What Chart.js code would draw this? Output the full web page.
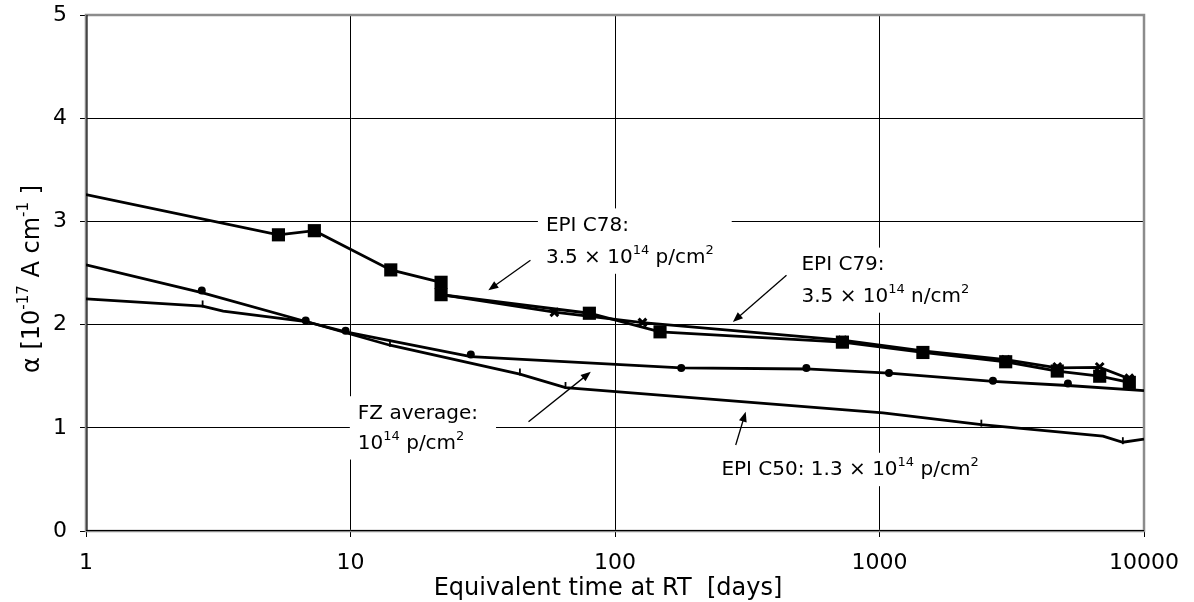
<!DOCTYPE html>
<html>
<head>
<meta charset="utf-8">
<script src="https://cdn.jsdelivr.net/npm/chart.js@4.4.1/dist/chart.umd.min.js"></script>
<style>
  html, body { margin: 0; padding: 0; background: #fff; }
  #wrap { width: 1194px; height: 602px; }
</style>
</head>
<body>
<div id="wrap"><canvas id="alphaChart" width="1194" height="602"></canvas></div>
<script>
// values: x = equivalent days at RT, y = alpha [1e-17 A/cm]
const xTicks = [1, 10, 100, 1000, 10000];
const yTicks = [0, 1, 2, 3, 4, 5];

// EPI C78, 3.5e14 p/cm2 (squares)
const c78LineDays  = [1, 5.34, 7.3, 14.2, 22, 22, 80, 148, 724, 1459, 3000, 4700, 6800, 8800];
const c78LineAlpha = [3.26, 2.87, 2.91, 2.53, 2.41, 2.29, 2.11, 1.93, 1.83, 1.73, 1.64, 1.55, 1.50, 1.44];
const c78MarkDays  = [5.34, 7.3, 14.2, 22, 22, 80, 148, 724, 1459, 3000, 4700, 6800, 8800];
const c78MarkAlpha = [2.87, 2.91, 2.53, 2.41, 2.29, 2.11, 1.93, 1.83, 1.73, 1.64, 1.55, 1.50, 1.44];

// EPI C79, 3.5e14 n/cm2 (crosses)
const c79LineDays  = [22, 59, 127, 724, 1459, 3000, 4700, 6800, 8800];
const c79LineAlpha = [2.29, 2.12, 2.02, 1.85, 1.745, 1.66, 1.58, 1.585, 1.475];
const c79MarkDays  = [59, 127, 724, 1459, 3000, 4700, 6800, 8800];
const c79MarkAlpha = [2.12, 2.02, 1.85, 1.745, 1.66, 1.59, 1.59, 1.48];

// FZ average, 1e14 p/cm2 (dots)
const fzLineDays  = [1, 2.74, 6.77, 9.58, 28.5, 178, 529, 1086, 2685, 5156, 10000];
const fzLineAlpha = [2.58, 2.31, 2.03, 1.93, 1.69, 1.58, 1.57, 1.53, 1.45, 1.41, 1.36];
const fzMarkDays  = [2.74, 6.77, 9.58, 28.5, 178, 529, 1086, 2685, 5156];
const fzMarkAlpha = [2.33, 2.04, 1.94, 1.71, 1.58, 1.58, 1.53, 1.455, 1.43];

// EPI C50, 1.3e14 p/cm2 (small dashes)
const c50LineDays  = [1, 2.76, 3.3, 6.8, 14.1, 43.7, 65, 1031, 2427, 6997, 8318, 10000];
const c50LineAlpha = [2.25, 2.18, 2.13, 2.03, 1.80, 1.52, 1.39, 1.145, 1.03, 0.92, 0.86, 0.89];
const c50MarkDays  = [2.76, 14.1, 43.7, 65, 2427, 8318];
const c50MarkAlpha = [2.20, 1.82, 1.54, 1.41, 1.045, 0.875];

const FONT = '"DejaVu Sans", Verdana, sans-serif';

function pts(days, alpha) {
  return days.map((d, i) => ({ x: d, y: alpha[i] }));
}

function lineSet(days, alpha) {
  return {
    data: pts(days, alpha),
    showLine: true,
    borderColor: "#000",
    borderWidth: 2.8,
    pointRadius: 0,
    tension: 0,
  };
}

function markSet(days, alpha, style) {
  return Object.assign({
    data: pts(days, alpha),
    showLine: false,
    borderColor: "#000",
    backgroundColor: "#000",
  }, style);
}

// --- text boxes and arrows, placed in data coordinates ---
// each label: lines of [text, superscript?] parts, left x (days), baselines (alpha)
const labels = [
  { x: 54.8, y: [2.907, 2.597], lines: [[["EPI C78:", false]], [["3.5 \u00d7 10", false], ["14", true], [" p/cm", false], ["2", true]]] },
  { x: 507, y: [2.527, 2.220], lines: [[["EPI C79:", false]], [["3.5 \u00d7 10", false], ["14", true], [" n/cm", false], ["2", true]]] },
  { x: 10.66, y: [1.087, 0.797], lines: [[["FZ average:", false]], [["10", false], ["14", true], [" p/cm", false], ["2", true]]] },
  { x: 252.5, y: [0.539], lines: [[["EPI C50: 1.3 \u00d7 10", false], ["14", true], [" p/cm", false], ["2", true]]] },
];
const arrows = [
  { from: [47.9, 2.623], to: [33.2, 2.333] },
  { from: [445, 2.478], to: [279, 2.026] },
  { from: [47.1, 1.058], to: [81, 1.542] },
  { from: [286, 0.833], to: [312, 1.155] },
];

const LABEL_SIZE = 20;

function drawRich(ctx, parts, x, y, size) {
  let cx = x;
  parts.forEach(([t, sup]) => {
    ctx.font = (sup ? Math.round(size * 0.63) : size) + "px " + FONT;
    ctx.fillText(t, cx, sup ? y - size * 0.45 : y);
    cx += ctx.measureText(t).width;
  });
  return cx - x;
}

function measureRich(ctx, parts, size) {
  let w = 0;
  parts.forEach(([t, sup]) => {
    ctx.font = (sup ? Math.round(size * 0.63) : size) + "px " + FONT;
    w += ctx.measureText(t).width;
  });
  return w;
}

const annotationPlugin = {
  id: "annotations",
  beforeDatasetsDraw(chart) {
    const { ctx, chartArea: a, scales } = chart;
    ctx.save();
    // white boxes behind the labels hide the grid
    ctx.fillStyle = "#fff";
    labels.forEach((lb) => {
      const x = scales.x.getPixelForValue(lb.x);
      const ys = lb.y.map((v) => scales.y.getPixelForValue(v));
      const w = Math.max(...lb.lines.map((p) => measureRich(ctx, p, LABEL_SIZE)));
      const top = ys[0] - LABEL_SIZE * 0.73 - 8;
      const bottom = ys[ys.length - 1] + LABEL_SIZE * 0.24 + 6;
      ctx.fillRect(x - 8, top, w + 26, bottom - top);
    });
    // grey plot frame
    ctx.strokeStyle = "#8c8c8c";
    ctx.lineWidth = 2.5;
    ctx.strokeRect(a.left, a.top, a.right - a.left, a.bottom - a.top);
    ctx.strokeStyle = "#000";
    ctx.lineWidth = 1;
    ctx.beginPath();
    ctx.moveTo(a.left + 1, a.top);
    ctx.lineTo(a.left + 1, a.bottom);
    ctx.moveTo(a.left, a.bottom - 0.5);
    ctx.lineTo(a.right, a.bottom - 0.5);
    ctx.stroke();
    ctx.restore();
  },
  afterDatasetsDraw(chart) {
    const { ctx, scales } = chart;
    ctx.save();
    ctx.fillStyle = "#000";
    ctx.textBaseline = "alphabetic";
    ctx.textAlign = "left";
    labels.forEach((lb) => {
      const x = scales.x.getPixelForValue(lb.x);
      lb.lines.forEach((parts, i) => {
        drawRich(ctx, parts, x, scales.y.getPixelForValue(lb.y[i]), LABEL_SIZE);
      });
    });
    ctx.strokeStyle = "#000";
    ctx.lineWidth = 1.3;
    arrows.forEach((ar) => {
      const x0 = scales.x.getPixelForValue(ar.from[0]);
      const y0 = scales.y.getPixelForValue(ar.from[1]);
      const x1 = scales.x.getPixelForValue(ar.to[0]);
      const y1 = scales.y.getPixelForValue(ar.to[1]);
      const ang = Math.atan2(y1 - y0, x1 - x0);
      ctx.beginPath();
      ctx.moveTo(x0, y0);
      ctx.lineTo(x1 - 6 * Math.cos(ang), y1 - 6 * Math.sin(ang));
      ctx.stroke();
      ctx.beginPath();
      ctx.moveTo(x1, y1);
      ctx.lineTo(x1 - 10 * Math.cos(ang) + 4 * Math.sin(ang), y1 - 10 * Math.sin(ang) - 4 * Math.cos(ang));
      ctx.lineTo(x1 - 10 * Math.cos(ang) - 4 * Math.sin(ang), y1 - 10 * Math.sin(ang) + 4 * Math.cos(ang));
      ctx.closePath();
      ctx.fill();
    });
    ctx.restore();
  },
  afterDraw(chart) {
    const { ctx, chartArea: a } = chart;
    ctx.save();
    ctx.fillStyle = "#000";
    ctx.textBaseline = "alphabetic";
    // x axis title
    ctx.font = "24px " + FONT;
    ctx.textAlign = "center";
    ctx.fillText("Equivalent time at RT  [days]", 608, 595);
    // y axis title, rotated, with superscripts
    const yParts = [["\u03b1 [10", false], ["-17", true], [" A cm", false], ["-1", true], [" ]", false]];
    const size = 24;
    const w = measureRich(ctx, yParts, size);
    ctx.translate(39, (a.top + a.bottom) / 2 + 6);
    ctx.rotate(-Math.PI / 2);
    ctx.textAlign = "left";
    drawRich(ctx, yParts, -w / 2, 0, size);
    ctx.restore();
  },
};

const tickFont = { family: FONT, size: 22 };

new Chart(document.getElementById("alphaChart"), {
  type: "scatter",
  data: {
    datasets: [
      lineSet(c78LineDays, c78LineAlpha),
      lineSet(c79LineDays, c79LineAlpha),
      lineSet(fzLineDays, fzLineAlpha),
      lineSet(c50LineDays, c50LineAlpha),
      markSet(c78MarkDays, c78MarkAlpha, { pointStyle: "rect", pointRadius: 9.3, borderWidth: 0 }),
      markSet(c79MarkDays, c79MarkAlpha, { pointStyle: "crossRot", pointRadius: 5.5, borderWidth: 3 }),
      markSet(fzMarkDays, fzMarkAlpha, { pointStyle: "circle", pointRadius: 4, borderWidth: 0 }),
      markSet(c50MarkDays, c50MarkAlpha, { pointStyle: "line", pointRadius: 3.5, rotation: 90, borderWidth: 1.8 }),
    ],
  },
  options: {
    responsive: false,
    animation: false,
    devicePixelRatio: 1,
    events: [],
    layout: { padding: { top: 15, right: 50, left: 0, bottom: 0 } },
    plugins: { legend: { display: false }, tooltip: { enabled: false } },
    scales: {
      x: {
        type: "logarithmic",
        min: 1,
        max: 10000,
        afterBuildTicks: (s) => { s.ticks = xTicks.map((v) => ({ value: v })); },
        afterFit: (s) => { s.height = 71; s.paddingLeft = 0; s.paddingRight = 0; },
        grid: { color: "#000", lineWidth: 1, tickLength: 6, tickColor: "#000" },
        border: { display: true, color: "#000", width: 1 },
        ticks: {
          font: tickFont,
          color: "#000",
          padding: 13,
          maxRotation: 0,
          autoSkip: false,
          callback: (v) => String(v),
        },
      },
      y: {
        type: "linear",
        min: 0,
        max: 5,
        afterBuildTicks: (s) => { s.ticks = yTicks.map((v) => ({ value: v })); },
        afterFit: (s) => { s.width = 86; s.paddingTop = 0; s.paddingBottom = 0; },
        grid: { color: "#000", lineWidth: 1, tickLength: 6, tickColor: "#000" },
        border: { display: true, color: "#000", width: 1 },
        ticks: { font: tickFont, color: "#000", padding: 13, callback: (v) => String(v) },
      },
    },
  },
  plugins: [annotationPlugin],
});
</script>
</body>
</html>
